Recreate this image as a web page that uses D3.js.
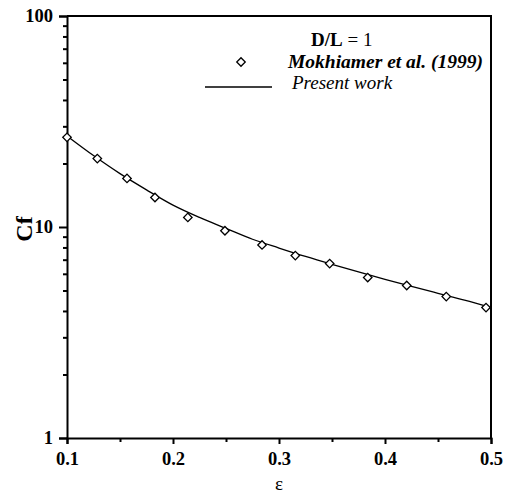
<!DOCTYPE html>
<html>
<head>
<meta charset="utf-8">
<script src="https://cdn.jsdelivr.net/npm/d3@7/dist/d3.min.js"></script>
<style>
  html, body { margin: 0; padding: 0; background: #fff; }
  svg { display: block; }
  text { font-family: "Liberation Serif", "Times New Roman", serif; fill: #000; }
</style>
</head>
<body>
<svg id="chart" width="507" height="495"></svg>
<script>
// Skin-friction coefficient Cf against eccentricity ratio, D/L = 1
const epsRef = [0.1, 0.1286, 0.1566, 0.183, 0.214, 0.249, 0.284, 0.3154, 0.3478, 0.3837, 0.4205, 0.4578, 0.4953];
const cfRef  = [26.6, 21.1, 17.0, 13.8, 11.1, 9.6, 8.22, 7.32, 6.71, 5.76, 5.28, 4.68, 4.15];

const epsLine = [0.1, 0.125, 0.15, 0.175, 0.2, 0.225, 0.25, 0.275, 0.3, 0.325, 0.35, 0.375, 0.4, 0.425, 0.45, 0.475, 0.5];
const cfLine  = [27.0, 21.8, 17.9, 15.0, 12.7, 11.1, 9.85, 8.75, 7.95, 7.25, 6.65, 6.12, 5.65, 5.23, 4.85, 4.5, 4.15];

const xMajor = [0.1, 0.2, 0.3, 0.4, 0.5];
const xMinor = [0.15, 0.25, 0.35, 0.45];
const yMajor = [1, 10, 100];
const yMinor = [2, 3, 4, 5, 6, 7, 8, 9, 20, 30, 40, 50, 60, 70, 80, 90];

const legendTitle = ["D/L", " = 1"];
const seriesNames = ["Mokhiamer et al. (1999)", "Present work"];

const margin = { left: 67, top: 16, right: 16, bottom: 57 };
const W = 507, H = 495;
const svg = d3.select("#chart");

const x = d3.scaleLinear().domain([0.1, 0.5]).range([margin.left, W - margin.right]);
const y = d3.scaleLog().domain([1, 100]).range([H - margin.bottom, margin.top]);

const x0 = x.range()[0], x1 = x.range()[1];
const y0 = y.range()[0], y1 = y.range()[1];

// frame (top and right borders)
svg.append("path")
  .attr("d", `M${x0},${y1} H${x1} V${y0}`)
  .attr("fill", "none").attr("stroke", "#000").attr("stroke-width", 2);

// x axis
const gx = svg.append("g").attr("transform", `translate(0,${y0})`);
gx.call(d3.axisBottom(x).tickValues(xMajor).tickSize(6).tickPadding(8).tickFormat(d3.format(".1f")));
const gxm = svg.append("g").attr("transform", `translate(0,${y0})`);
gxm.call(d3.axisBottom(x).tickValues(xMinor).tickSize(4).tickFormat(""));

// y axis
const gy = svg.append("g").attr("transform", `translate(${x0},0)`);
gy.call(d3.axisLeft(y).tickValues(yMajor).tickSize(8).tickPadding(6).tickFormat(d3.format("d")));
const gym = svg.append("g").attr("transform", `translate(${x0},0)`);
gym.call(d3.axisLeft(y).tickValues(yMinor).tickSize(4).tickFormat(""));

svg.selectAll(".domain").attr("stroke", "#000").attr("stroke-width", 2);
gxm.select(".domain").remove();
gym.select(".domain").remove();
svg.selectAll(".tick line").attr("stroke", "#000").attr("stroke-width", 2);
svg.selectAll(".tick text")
  .style("font-family", '"Liberation Serif", "Times New Roman", serif')
  .style("font-weight", "bold").style("font-size", "18.5px").attr("fill", "#000");

// axis titles
svg.append("text")
  .attr("transform", `translate(32,${(y0 + y1) / 2 + 2}) rotate(-90)`)
  .attr("text-anchor", "middle")
  .style("font-weight", "bold").style("font-size", "24px")
  .text("Cf");
svg.append("text")
  .attr("x", (x0 + x1) / 2).attr("y", 490)
  .attr("text-anchor", "middle")
  .style("font-size", "19px")
  .text("ε");

// present work curve
const line = d3.line()
  .x((d, i) => x(epsLine[i]))
  .y(d => y(d))
  .curve(d3.curveMonotoneX);
svg.append("path")
  .datum(cfLine)
  .attr("d", line)
  .attr("fill", "none").attr("stroke", "#000").attr("stroke-width", 1.3);

// reference points as open diamonds
const diamond = d3.symbol().type(d3.symbolSquare).size(36);
svg.append("g").selectAll("path")
  .data(cfRef)
  .join("path")
  .attr("d", diamond)
  .attr("transform", (d, i) => `translate(${x(epsRef[i])},${y(d)}) rotate(45)`)
  .attr("fill", "#fff").attr("stroke", "#000").attr("stroke-width", 1.3);

// legend
const lg = svg.append("g");
const t = lg.append("text").attr("x", 311).attr("y", 46).style("font-size", "19px");
t.append("tspan").style("font-weight", "bold").text(legendTitle[0]);
t.append("tspan").text(legendTitle[1]);

lg.append("path")
  .attr("d", diamond)
  .attr("transform", "translate(241,62) rotate(45)")
  .attr("fill", "#fff").attr("stroke", "#000").attr("stroke-width", 1.3);
lg.append("text").attr("x", 288).attr("y", 68)
  .style("font-weight", "bold").style("font-style", "italic").style("font-size", "19.5px")
  .text(seriesNames[0]);

lg.append("line").attr("x1", 205).attr("x2", 272).attr("y1", 87).attr("y2", 87)
  .attr("stroke", "#000").attr("stroke-width", 1.3);
lg.append("text").attr("x", 292).attr("y", 89)
  .style("font-style", "italic").style("font-size", "19px")
  .text(seriesNames[1]);
</script>
</body>
</html>
